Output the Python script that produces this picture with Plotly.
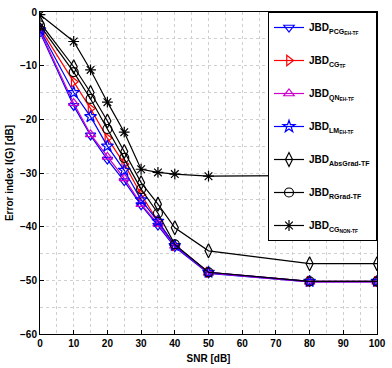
import plotly.graph_objects as go

snr = [0, 10, 15, 20, 25, 30, 35, 40, 50, 80, 100]

names = [
    "JBD<sub>PCG<sub>EH-TF</sub></sub>",
    "JBD<sub>CG<sub>TF</sub></sub>",
    "JBD<sub>QN<sub>EH-TF</sub></sub>",
    "JBD<sub>LM<sub>EH-TF</sub></sub>",
    "JBD<sub>AbsGrad-TF</sub>",
    "JBD<sub>RGrad-TF</sub>",
    "JBD<sub>CG<sub>NON-TF</sub></sub>",
]

pcg = [-3.8, -17.5, -23.0, -27.5, -31.5, -36.0, -39.8, -43.8, -48.7, -50.3, -50.3]
cg_tf = [-3.0, -13.0, -18.0, -23.5, -28.3, -34.0, -39.0, -43.5, -48.5, -50.2, -50.2]
qn = [-3.5, -17.0, -22.8, -27.0, -31.0, -35.8, -39.5, -43.6, -48.6, -50.3, -50.3]
lm = [-3.3, -15.0, -19.5, -25.0, -29.5, -35.0, -39.0, -43.5, -48.5, -50.2, -50.2]
absgrad = [-2.0, -10.2, -15.0, -20.3, -26.0, -31.8, -35.8, -40.2, -44.5, -46.9, -46.9]
rgrad = [-2.5, -11.2, -16.2, -21.8, -27.2, -33.0, -37.5, -43.3, -48.5, -50.2, -50.2]
cg_non = [-0.5, -5.5, -10.8, -16.8, -22.4, -29.3, -29.9, -30.2, -30.6, -30.5, -30.4]

series = [pcg, cg_tf, qn, lm, absgrad, rgrad, cg_non]
colors = ["#0000ff", "#ff0000", "#cc00cc", "#0000ff", "#000000", "#000000", "#000000"]
symbols = ["triangle-down-open", "triangle-right-open", "triangle-up-open", "star-open",
           "diamond-tall-open", "circle-open", "asterisk-open"]
sizes = [9, 9, 9, 9, 10, 9, 9]

fig = go.Figure()
for i, (nm, ys, c, s, sz) in enumerate(zip(names, series, colors, symbols, sizes)):
    fig.add_trace(go.Scatter(
        x=snr, y=ys, name=nm, mode="lines+markers", legendgroup=f"g{i}",
        line=dict(color=c, width=1.2),
        marker=dict(symbol=s, size=sz, color=c, line=dict(color=c, width=1.2)),
    ))

axis_common = dict(
    showline=True, linecolor="black", linewidth=1, mirror=True,
    ticks="inside", ticklen=4, tickcolor="black",
    showgrid=True, gridcolor="#d0d0d0", griddash="dot", gridwidth=1,
    zeroline=False, ticklabeloverflow="allow",
    tickfont=dict(family="Liberation Sans", size=10, color="black", weight="bold"),
    minor=dict(dtick=5, showgrid=True, gridcolor="#d0d0d0", griddash="dot", ticks=""),
)

fig.update_xaxes(range=[0, 100], dtick=10, tick0=0,
                 title=dict(text="SNR [dB]", font=dict(family="Liberation Sans", size=10, color="black", weight="bold"), standoff=6),
                 **axis_common)
fig.update_yaxes(range=[-60, 0], dtick=10, tick0=0,
                 title=dict(text="Error index I(G) [dB]", font=dict(family="Liberation Sans", size=10, color="black", weight="bold"), standoff=4),
                 **axis_common)

fig.update_layout(
    width=392, height=368,
    margin=dict(l=40, r=6, t=7, b=29),
    paper_bgcolor="white", plot_bgcolor="white",
    showlegend=True,
    legend=dict(
        x=1, y=1, xanchor="right", yanchor="top",
        bgcolor="white", bordercolor="black", borderwidth=1,
        font=dict(family="Liberation Sans", size=10, color="black", weight="bold"),
        itemwidth=30, tracegroupgap=14,
    ),
)

fig.write_html("out.html")
